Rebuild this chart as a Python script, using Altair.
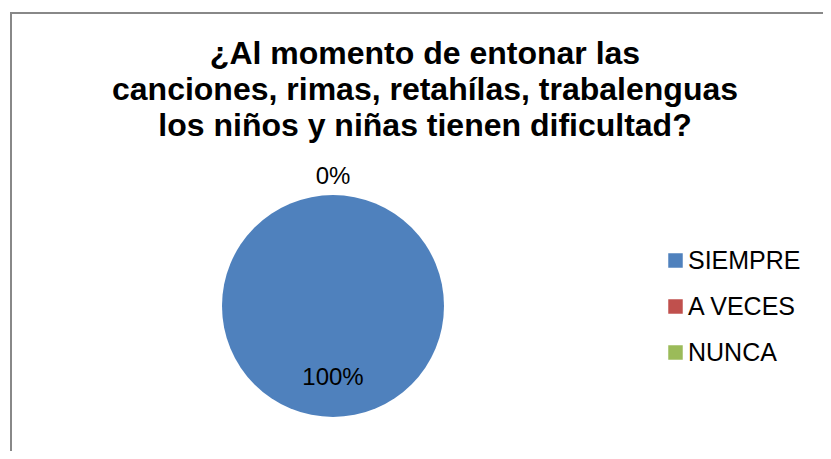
import altair as alt
import pandas as pd

categories = ["SIEMPRE", "A VECES", "NUNCA"]
values = [100, 0, 0]
colors = ["#4F81BD", "#C0504D", "#9BBB59"]
title_lines = [
    "¿Al momento de entonar las",
    "canciones, rimas, retahílas, trabalenguas",
    "los niños y niñas tienen dificultad?",
]

df = pd.DataFrame({"categoria": categories, "valor": values,
                   "orden": list(range(len(categories)))})
one = pd.DataFrame({"k": [0]})

FONT = "Liberation Sans"
W = H = 240
PL, PT = 205, 178  # plot area origin on page = (213, 186)

color = alt.Color(
    "categoria:N",
    scale=alt.Scale(domain=categories, range=colors),
    legend=alt.Legend(
        title=None, orient="none", legendX=450, legendY=62,
        symbolType="square", symbolSize=210, symbolStrokeWidth=0,
        labelFontSize=25, labelFont=FONT, labelColor="black",
        rowPadding=20, labelOffset=0, padding=0,
    ),
)

pie = alt.Chart(df).mark_arc(outerRadius=111).encode(
    theta=alt.Theta("valor:Q", stack=True),
    color=color,
    order=alt.Order("orden:Q"),
)

labels = alt.Chart(df).transform_joinaggregate(
    total="sum(valor)"
).transform_calculate(
    lbl="datum.categoria == 'NUNCA' ? '' : format(datum.valor / datum.total, '.0%')",
    r="datum.valor > 0 ? 72 : 129",
).mark_text(font=FONT, fontSize=24, color="black", baseline="middle", align="center").encode(
    theta=alt.Theta("valor:Q", stack=True),
    radius=alt.Radius("r:Q", scale=None),
    text="lbl:N",
    detail="categoria:N",
    order=alt.Order("orden:Q"),
)

title = alt.Chart(one).mark_text(
    text=title_lines, font=FONT, fontSize=32, fontWeight="bold",
    align="center", baseline="alphabetic", lineHeight=36, color="black",
).encode(x=alt.value(212), y=alt.value(64 - 186))

border = alt.Chart(one).mark_rect(
    fillOpacity=0, stroke="#888888", strokeWidth=2
).encode(x=alt.value(-202), y=alt.value(-173), x2=alt.value(700), y2=alt.value(400))

chart = alt.layer(border, pie, labels, title).properties(
    width=W, height=H,
    padding={"left": PL, "top": PT, "right": 815 - PL - W, "bottom": 443 - PT - H},
    autosize=alt.AutoSizeParams(type="none"),
).configure_view(strokeOpacity=0)

chart.save("out.html", embed_options={"renderer": "svg", "actions": False})
